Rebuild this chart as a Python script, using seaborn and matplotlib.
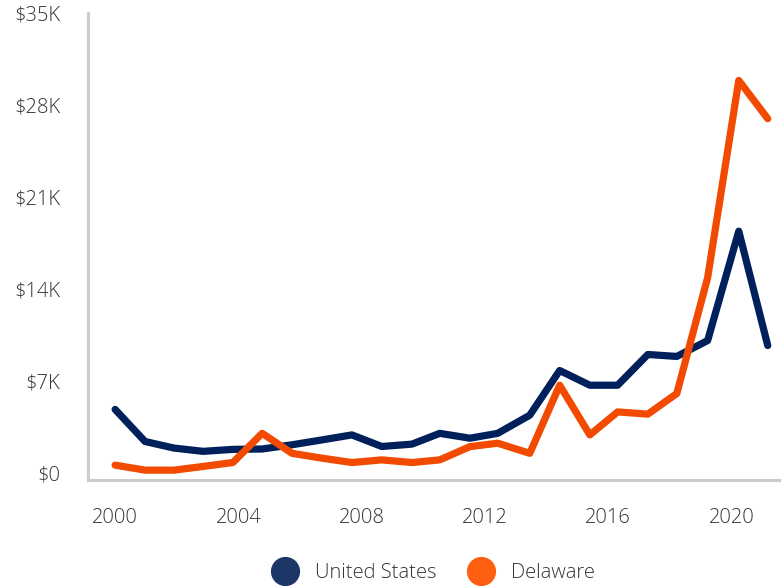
import matplotlib
matplotlib.use("Agg")
import matplotlib.pyplot as plt
from matplotlib.lines import Line2D
import seaborn as sns
import pandas as pd

# decimal year positions of each point
years = [2000.00, 2000.97, 2001.91, 2002.85, 2003.82, 2004.77, 2005.74, 2006.71,
         2007.68, 2008.65, 2009.63, 2010.53, 2011.51, 2012.41, 2013.45, 2014.42,
         2015.40, 2016.30, 2017.28, 2018.22, 2019.22, 2020.23, 2021.17]

us_values = [4840, 2400, 1900, 1650, 1800, 1830, 2150, 2520, 2900, 2020, 2200,
             3020, 2650, 3020, 4400, 7800, 6680, 6680, 9020, 8870, 10080, 18400, 9700]

delaware_values = [600, 220, 220, 500, 800, 3020, 1500, 1130, 800, 1000, 800,
                   1000, 2010, 2270, 1500, 6680, 2900, 4650, 4480, 6050, 14860, 29870, 26960]

y_ticks = [0, 7000, 14000, 21000, 28000, 35000]
y_labels = ["$0", "$7K", "$14K", "$21K", "$28K", "$35K"]
x_ticks = [2000, 2004, 2008, 2012, 2016, 2020]

series_names = ["United States", "Delaware"]
line_colors = {"United States": "#00205b", "Delaware": "#f24a00"}
legend_colors = ["#1c3668", "#ff5f10"]

df = pd.concat([
    pd.DataFrame({"year": years, "value": us_values, "series": "United States"}),
    pd.DataFrame({"year": years, "value": delaware_values, "series": "Delaware"}),
])

sns.set_style("white")
plt.rcParams["font.family"] = ["Open Sans", "DejaVu Sans"]

fig = plt.figure(figsize=(7.81, 5.86), dpi=100)
ax = fig.add_axes([88 / 781, 106 / 586, 1 - 88 / 781, (480 - 13) / 586])

sns.lineplot(data=df, x="year", y="value", hue="series", hue_order=series_names,
             palette=line_colors, linewidth=5.2, legend=False, ax=ax,
             solid_capstyle="round", solid_joinstyle="round")

ax.set_xlim(1999.12, 2021.6)
ax.set_ylim(-530, 35000)
ax.set_xticks(x_ticks)
ax.set_xticklabels([str(x) for x in x_ticks])
ax.set_yticks(y_ticks)
ax.set_yticklabels(y_labels)
ax.set_xlabel("")
ax.set_ylabel("")

grey = "#cccccc"
for side in ["top", "right"]:
    ax.spines[side].set_visible(False)
for side in ["left", "bottom"]:
    ax.spines[side].set_color(grey)
    ax.spines[side].set_linewidth(2.2)

ax.tick_params(axis="both", direction="in", length=9.5, width=2.2, color=grey,
               labelsize=14.5, labelcolor="#333333", pad=20)
ax.yaxis.get_major_ticks()[0].tick1line.set_visible(False)
for lab in ax.get_xticklabels() + ax.get_yticklabels():
    lab.set_fontweight("light")

handles = [Line2D([], [], linestyle="", marker="o", markersize=20,
                  markerfacecolor=c, markeredgecolor=c) for c in legend_colors]
leg = fig.legend(handles, series_names, loc="center", bbox_to_anchor=(0.556, 0.022),
                 ncol=2, frameon=False, fontsize=14.5, handletextpad=0.9,
                 columnspacing=1.6, handlelength=1.2)
for t in leg.get_texts():
    t.set_color("#333333")
    t.set_fontweight("light")

fig.savefig("out.png", dpi=100)
